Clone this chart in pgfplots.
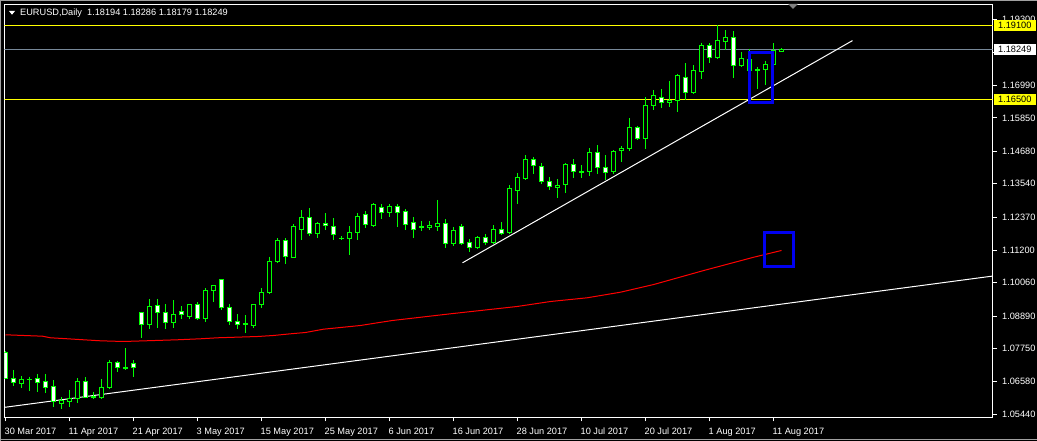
\documentclass[border=0pt]{standalone}
\usepackage{fontspec}
\setmainfont{Liberation Sans}
\usepackage{pgfplots}
\usepackage{pgfplotstable}
\pgfplotsset{compat=1.18}
\definecolor{mtlime}{RGB}{0,255,0}
\definecolor{mtred}{RGB}{255,0,0}
\definecolor{mtblue}{RGB}{0,0,240}
\definecolor{mtbid}{RGB}{119,136,153}
\definecolor{mtyellow}{RGB}{255,255,0}
\definecolor{mtframe}{RGB}{160,160,160}
\def\px{0.0003514}

% EURUSD daily, 30 Mar 2017 .. 14 Aug 2017 (bar index, open, high, low, close)
\pgfplotstableread{
x o h l c
0 1.07609 1.07644 1.06696 1.06696
1 1.06685 1.06977 1.06450 1.06545
2 1.06530 1.06766 1.06369 1.06650
3 1.06660 1.06741 1.06274 1.06650
4 1.06685 1.06836 1.06239 1.06566
5 1.06590 1.06836 1.06214 1.06369
6 1.06414 1.06625 1.05712 1.05887
7 1.05807 1.06039 1.05631 1.05923
8 1.05898 1.06274 1.05712 1.05982
9 1.05982 1.06685 1.05863 1.06590
10 1.06590 1.06720 1.06039 1.06039
11 1.06063 1.06214 1.05982 1.06039
12 1.06039 1.06650 1.05982 1.06369
13 1.06369 1.07328 1.06334 1.07247
14 1.07247 1.07304 1.06952 1.07072
15 1.07082 1.07739 1.07001 1.07058
16 1.07212 1.07318 1.06776 1.07093
17 1.09004 1.09015 1.08147 1.08604
18 1.08604 1.09472 1.08463 1.09215
19 1.09250 1.09472 1.08498 1.09004
20 1.09004 1.09285 1.08463 1.08653
21 1.08674 1.09426 1.08498 1.08934
22 1.09039 1.09215 1.08793 1.08934
23 1.08885 1.09285 1.08814 1.09285
24 1.09285 1.09356 1.08769 1.08793
25 1.08793 1.09848 1.08709 1.09777
26 1.09777 1.09953 1.09412 1.09953
27 1.10164 1.10174 1.09110 1.09180
28 1.09180 1.09285 1.08583 1.08688
29 1.08688 1.08934 1.08442 1.08604
30 1.08618 1.08899 1.08323 1.08604
31 1.08569 1.09285 1.08498 1.09285
32 1.09285 1.09848 1.09180 1.09707
33 1.09707 1.10958 1.09672 1.10807
34 1.10796 1.11605 1.10761 1.11534
35 1.11534 1.11605 1.10726 1.10972
36 1.10958 1.12097 1.10937 1.12026
37 1.11921 1.12589 1.11570 1.12343
38 1.12343 1.12659 1.11710 1.11780
39 1.11780 1.12177 1.11640 1.12132
40 1.12132 1.12483 1.11921 1.12061
41 1.12026 1.12308 1.11570 1.11745
42 1.11629 1.11675 1.11570 1.11605
43 1.11605 1.12026 1.11042 1.11815
44 1.11815 1.12483 1.11591 1.12378
45 1.12448 1.12553 1.11991 1.12097
46 1.12061 1.12835 1.12026 1.12799
47 1.12694 1.12799 1.12308 1.12518
48 1.12518 1.12799 1.12378 1.12729
49 1.12729 1.12799 1.12026 1.12518
50 1.12553 1.12624 1.11921 1.12097
51 1.12167 1.12343 1.11640 1.11921
52 1.12026 1.12202 1.11886 1.12002
53 1.11991 1.12202 1.11921 1.12061
54 1.12026 1.12951 1.11886 1.12132
55 1.12132 1.12272 1.11288 1.11429
56 1.11429 1.11991 1.11359 1.11886
57 1.12026 1.12097 1.11394 1.11429
58 1.11464 1.11570 1.11148 1.11288
59 1.11288 1.11675 1.11253 1.11640
60 1.11640 1.11745 1.11394 1.11464
61 1.11464 1.12061 1.11429 1.11921
62 1.11921 1.12167 1.11745 1.11780
63 1.11815 1.13467 1.11780 1.13362
64 1.13312 1.13889 1.12835 1.13748
65 1.13724 1.14521 1.13688 1.14381
66 1.14381 1.14451 1.13889 1.14170
67 1.14135 1.14240 1.13537 1.13608
68 1.13608 1.13748 1.13327 1.13432
69 1.13397 1.13678 1.13066 1.13467
70 1.13502 1.14240 1.13242 1.14205
71 1.14205 1.14381 1.13769 1.13959
72 1.13952 1.14170 1.13748 1.13934
73 1.13959 1.14767 1.13818 1.14627
74 1.14627 1.14873 1.13889 1.14100
75 1.14100 1.14521 1.13678 1.13924
76 1.13959 1.14697 1.13889 1.14662
77 1.14697 1.14838 1.14310 1.14767
78 1.14767 1.15821 1.14697 1.15505
79 1.15505 1.15540 1.15084 1.15119
80 1.15119 1.16559 1.14767 1.16278
81 1.16278 1.16816 1.16148 1.16630
82 1.16580 1.16841 1.16229 1.16384
83 1.16384 1.17132 1.16264 1.16465
84 1.16465 1.17378 1.16089 1.17332
85 1.17283 1.17754 1.16489 1.16746
86 1.16756 1.17694 1.16700 1.17508
87 1.17473 1.18478 1.17227 1.18387
88 1.18387 1.18457 1.17810 1.17986
89 1.17986 1.19089 1.17930 1.18562
90 1.18555 1.18924 1.18257 1.18661
91 1.18668 1.18889 1.17255 1.17684
92 1.17677 1.18151 1.17670 1.17930
93 1.17895 1.18246 1.17494 1.17501
94 1.17536 1.17624 1.16876 1.17508
95 1.17543 1.17846 1.17016 1.17730
96 1.17719 1.18457 1.17484 1.18222
97 1.18194 1.18286 1.18179 1.18249
}\eurusd

\begin{document}
\begin{tikzpicture}[x=1pt,y=1pt]
\useasboundingbox (0,0) rectangle (1037,441);
\fill[black] (0,0) rectangle (1037,441);
\draw[mtframe, line width=1pt] (0.5,0) -- (0.5,440.5) -- (1037,440.5);
\draw[mtframe, line width=1pt] (0,1.5) -- (1037,1.5);

\begin{axis}[
    at={(4.5pt,23.5pt)}, anchor=south west,
    scale only axis, width=988pt, height=413pt,
    xmin=-0.125, xmax=123.375,
    ymin=1.053251, ymax=1.198379,
    axis line style={white, line width=1pt},
    tick style={white, line width=1pt},
    tick align=outside, major tick length=4pt,
    ytick pos=right, yticklabel pos=right,
    xtick pos=bottom,
    ytick={1.0544,1.0658,1.0775,1.0889,1.1006,1.1120,1.1237,1.1354,1.1468,1.1585,1.1699,1.1816,1.1930},
    yticklabels={1.05440,1.06580,1.07750,1.08890,1.10060,1.11200,1.12370,1.13540,1.14680,1.15850,1.16990,,1.19300},
    xtick={0,8,...,96},
    xticklabels={30 Mar 2017,11 Apr 2017,21 Apr 2017,3 May 2017,15 May 2017,25 May 2017,6 Jun 2017,16 Jun 2017,28 Jun 2017,10 Jul 2017,20 Jul 2017,1 Aug 2017,11 Aug 2017},
    tick label style={font=\fontsize{9.2}{11}\selectfont, text=white, inner sep=0pt},
    yticklabel style={anchor=west, xshift=5.5pt},
    xticklabel style={anchor=base west, xshift=-1pt, yshift=-13.2pt},
    error bars/error mark=none,
]
% horizontal levels
\addplot[mtyellow, line width=1pt] coordinates {(-0.125,1.191) (123.375,1.191)};
\addplot[mtyellow, line width=1pt] coordinates {(-0.125,1.165) (123.375,1.165)};
\addplot[mtbid, line width=1pt] coordinates {(-0.125,1.18249) (123.375,1.18249)};
% long support line and moving average
\addplot[white, line width=1pt] coordinates {(-0.125,1.05682) (123.375,1.10294)};
\addplot[mtred, line width=1pt] coordinates {
 (0,1.08231) (4.625,1.08182) (5.625,1.08126) (7.75,1.08091) (9.75,1.08056)
 (11.875,1.08020) (14.75,1.07996) (17.5,1.08020) (21.5,1.08056) (24.375,1.08091)
 (26.5,1.08126) (31.5,1.08171) (33.5,1.08207) (35.625,1.08266) (37.5,1.08312)
 (39.75,1.08428) (42.25,1.08498) (44.375,1.08558) (46.5,1.08653) (48.375,1.08734)
 (55.625,1.08969) (63.96,1.09226) (68.125,1.09401) (72.7,1.09531) (76.875,1.09728)
 (81.04,1.09999) (87.29,1.10491) (93.54,1.10958) (97,1.11194)};
% upper trend line
\addplot[white, line width=1pt] coordinates {(57.125,1.10761) (105.875,1.18569)};
% candles: wicks, bodies, fills
\addplot[draw=none, mark=none, error bars/.cd, y dir=minus, y explicit,
    error bar style={draw=mtlime, line width=1pt}]
  table[x=x, y expr={\thisrow{h}+0.5*\px}, y error expr={\thisrow{h}-\thisrow{l}+\px}] {\eurusd};
\addplot[draw=none, mark=none, error bars/.cd, y dir=minus, y explicit,
    error bar style={draw=mtlime, line width=5pt}]
  table[x=x, y expr={max(\thisrow{o},\thisrow{c})+0.5*\px}, y error expr={abs(\thisrow{o}-\thisrow{c})+\px}] {\eurusd};
\addplot[draw=none, mark=none, restrict expr to domain={\thisrow{o}-\thisrow{c}}{0.0004:1},
    error bars/.cd, y dir=minus, y explicit,
    error bar style={draw=white, line width=3pt}]
  table[x=x, y expr={\thisrow{o}-0.5*\px}, y error expr={\thisrow{o}-\thisrow{c}-\px}] {\eurusd};
\addplot[draw=none, mark=none, restrict expr to domain={\thisrow{c}-\thisrow{o}}{0.0004:1},
    error bars/.cd, y dir=minus, y explicit,
    error bar style={draw=black, line width=3pt}]
  table[x=x, y expr={\thisrow{c}-0.5*\px}, y error expr={\thisrow{c}-\thisrow{o}-\px}] {\eurusd};
% marked boxes
\addplot[mtblue, line width=3pt, line cap=rect] coordinates {(93.04,1.18141) (95.91,1.18141) (95.91,1.16394) (93.04,1.16394) (93.04,1.18141)};
\addplot[mtblue, line width=3pt, line cap=rect] coordinates {(94.91,1.11837) (98.54,1.11837) (98.54,1.10631) (94.91,1.10631) (94.91,1.11837)};
\end{axis}

% price labels on the right scale
\begin{scope}[font=\fontsize{9.2}{11}\selectfont]
\fill[mtyellow] (994,410) rectangle (1036,421);
\node[anchor=west, inner sep=0pt, text=black] at (998,415.5) {1.19100};
\fill[white] (994,385.8) rectangle (1036,396.8);
\node[anchor=west, inner sep=0pt, text=black] at (998,391.3) {1.18249};
\fill[mtyellow] (994,336) rectangle (1036,347);
\node[anchor=west, inner sep=0pt, text=black] at (998,341.5) {1.16500};
% title
\fill[white] (9,430) -- (15,430) -- (12,426.3) -- cycle;
\node[anchor=base west, inner sep=0pt, text=white] at (20,425) {EURUSD,Daily~~1.18194 1.18286 1.18179 1.18249};
\end{scope}
% chart shift marker
\fill[gray] (788,437) -- (798,437) -- (793,432) -- cycle;
\end{tikzpicture}
\end{document}
